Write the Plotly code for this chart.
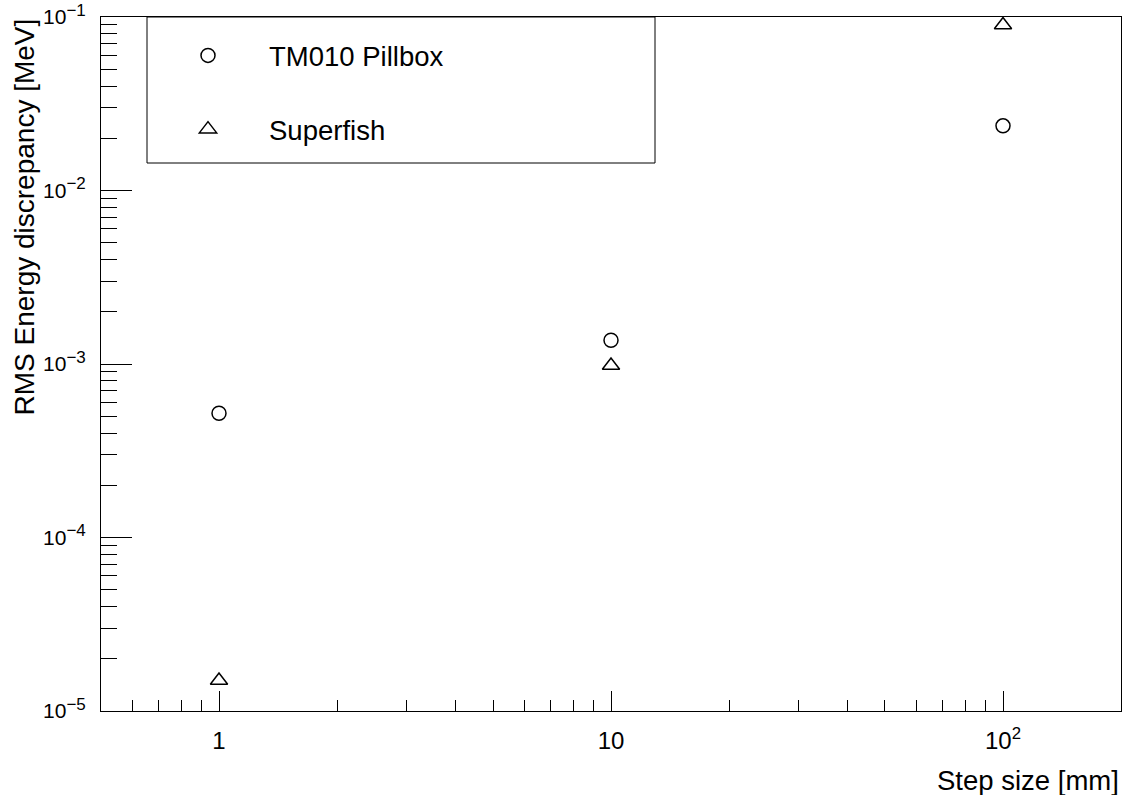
import plotly.graph_objects as go

# Step sizes [mm] and RMS energy discrepancy [MeV] for each field map
step_size = [1, 10, 100]
pillbox_rms = [5.2e-4, 1.37e-3, 2.36e-2]
superfish_rms = [1.5e-5, 9.8e-4, 9.0e-2]

x_major = [1, 10, 100]
x_major_text = ["1", "10", "10<sup>2</sup>"]
y_major = [1e-5, 1e-4, 1e-3, 1e-2, 1e-1]
y_exponents = ["\u22125", "\u22124", "\u22123", "\u22122", "\u22121"]
y_major_text = [f"10<sup><span style='font-size:17px'>{e}</span></sup>" for e in y_exponents]

x_minor = [round(m * 10 ** e, 6) for e in (-1, 0, 1) for m in range(2, 10)]
x_minor = [v for v in x_minor if 0.5 < v < 200 and v not in (1, 10, 100)]
y_minor = [m * 10 ** e for e in (-5, -4, -3, -2) for m in range(2, 10)]

FONT = "Liberation Sans, Arial, Helvetica, sans-serif"

# plot-area geometry in pixels (used to place paper-referenced decorations)
W, H = 1125, 795
ML, MR, MT, MB = 101, 4, 17, 84
PW, PH = W - ML - MR, H - MT - MB


def px_x(px):
    return (px - ML) / PW


def px_y(py):
    return (H - MB - py) / PH


fig = go.Figure()
fig.add_trace(go.Scatter(
    x=step_size, y=pillbox_rms, mode="markers", name="TM010 Pillbox",
    marker=dict(symbol="circle-open", size=14, color="black", line=dict(width=1.5)),
    legendgroup="a",
))
fig.add_trace(go.Scatter(
    x=step_size, y=superfish_rms, mode="markers", name="Superfish",
    marker=dict(symbol="triangle-up-open", size=15, color="black", line=dict(width=1.5)),
    legendgroup="b",
))

axis_common = dict(
    type="log", showgrid=False, zeroline=False, showline=True, linecolor="black",
    linewidth=1, mirror=True, ticks="inside", tickcolor="black", tickwidth=1,
    automargin=False,
)

fig.update_xaxes(
    **axis_common,
    range=[-0.30103, 2.30103],
    tickmode="array", tickvals=x_major, ticktext=x_major_text, ticklen=20,
    ticklabelstandoff=8,
    tickfont=dict(family=FONT, size=24, color="black"),
    minor=dict(tickmode="array", tickvals=x_minor, ticks="inside", ticklen=11,
               tickcolor="black", tickwidth=1, showgrid=False),
)
fig.update_yaxes(
    **axis_common,
    range=[-5, -1],
    tickmode="array", tickvals=y_major, ticktext=y_major_text, ticklen=31,
    ticklabelstandoff=10,
    tickfont=dict(family=FONT, size=21, color="black"),
    minor=dict(tickmode="array", tickvals=y_minor, ticks="inside", ticklen=16,
               tickcolor="black", tickwidth=1, showgrid=False),
)

fig.add_annotation(
    text="Step size [mm]", xref="paper", yref="paper", x=1, y=px_y(763),
    xanchor="right", yanchor="top", showarrow=False,
    font=dict(family=FONT, size=27.5, color="black"),
)
fig.add_annotation(
    text="RMS Energy discrepancy [MeV]", xref="paper", yref="paper", x=px_x(24), y=1,
    xanchor="center", yanchor="top", textangle=-90, showarrow=False,
    font=dict(family=FONT, size=28, color="black"),
)

# legend frame
fig.add_shape(
    type="rect", xref="paper", yref="paper",
    x0=px_x(147), x1=px_x(655), y0=px_y(163), y1=1,
    line=dict(color="black", width=1), fillcolor="rgba(0,0,0,0)", layer="above",
)

fig.update_layout(
    width=W, height=H,
    margin=dict(l=ML, r=MR, t=MT, b=MB, autoexpand=False),
    paper_bgcolor="white", plot_bgcolor="white",
    showlegend=True,
    legend=dict(
        x=px_x(147), y=px_y(31), xanchor="left", yanchor="top",
        borderwidth=0, bgcolor="rgba(0,0,0,0)",
        font=dict(family=FONT, size=27.5, color="black"),
        tracegroupgap=35, itemwidth=112,
    ),
)

fig.write_html("out.html")
